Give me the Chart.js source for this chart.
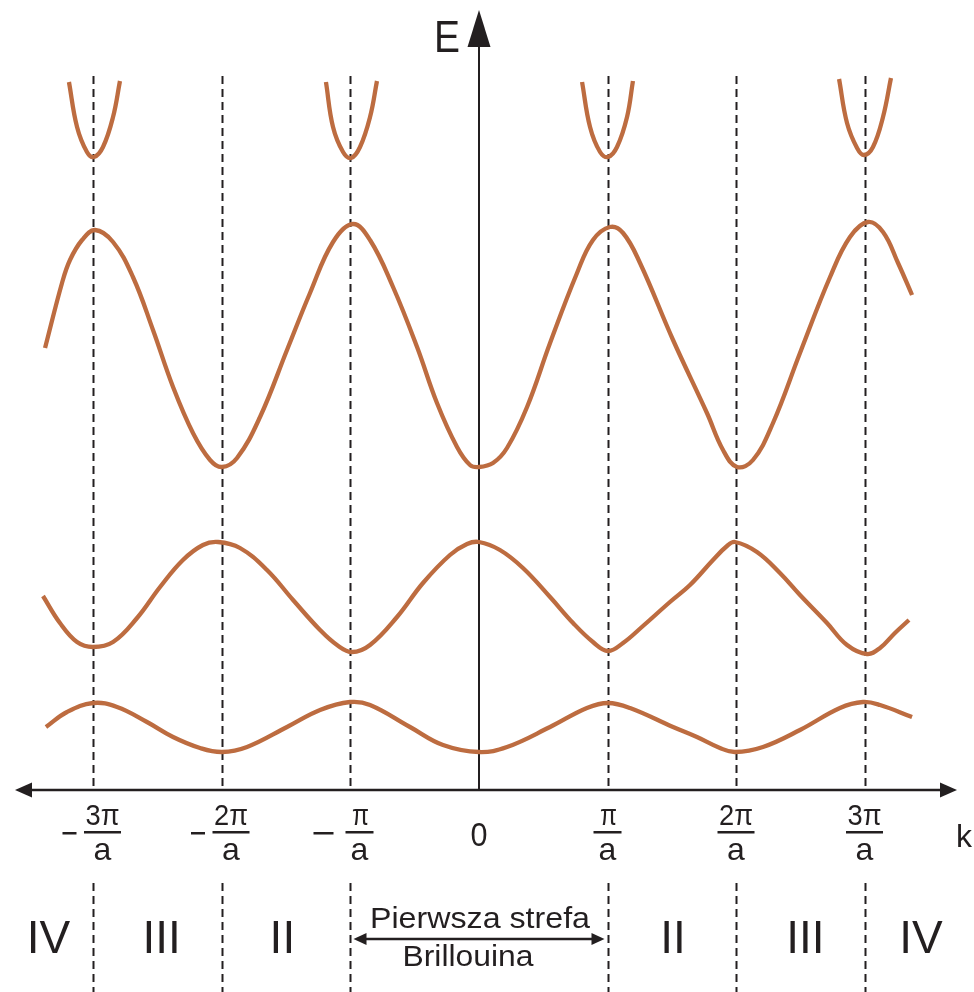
<!DOCTYPE html>
<html>
<head>
<meta charset="utf-8">
<script src="https://cdn.jsdelivr.net/npm/chart.js@4/dist/chart.umd.min.js"></script>
<style>
  html, body { margin: 0; padding: 0; background: #fff; }
  #wrap { width: 974px; height: 992px; }
</style>
</head>
<body>
<div id="wrap"><canvas id="bands" width="974" height="992"></canvas></div>
<script>
// k in units of pi/a, E in arbitrary units (axis at E = 0)
const band1K = [-3.370, -3.206, -3.004, -2.817, -2.584, -2.381, -2.171, -2.0, -1.805, -1.494, -1.237, -1.004, -0.848, -0.537, -0.280, 0, 0.218, 0.553, 0.840, 1.004, 1.175, 1.510, 1.696, 1.875, 1.992, 2.210, 2.498, 2.809, 2.988, 3.121, 3.370];
const band1E = [0.63, 0.78, 0.87, 0.83, 0.68, 0.53, 0.42, 0.38, 0.43, 0.63, 0.80, 0.88, 0.85, 0.63, 0.45, 0.38, 0.43, 0.63, 0.82, 0.87, 0.82, 0.63, 0.53, 0.42, 0.38, 0.43, 0.60, 0.82, 0.88, 0.85, 0.73];

const band2K = [-3.393, -3.261, -3.128, -3.004, -2.848, -2.661, -2.482, -2.304, -2.148, -2.031, -1.860, -1.650, -1.447, -1.237, -1.105, -0.988, -0.848, -0.638, -0.436, -0.226, -0.093, 0, 0.163, 0.342, 0.553, 0.732, 0.887, 1.004, 1.121, 1.276, 1.486, 1.642, 1.821, 1.930, 1.992, 2.163, 2.342, 2.498, 2.708, 2.864, 3.019, 3.121, 3.237, 3.346];
const band2E = [1.94, 1.67, 1.48, 1.43, 1.48, 1.72, 2.03, 2.30, 2.45, 2.48, 2.42, 2.20, 1.90, 1.60, 1.45, 1.38, 1.45, 1.73, 2.07, 2.35, 2.46, 2.48, 2.40, 2.22, 1.93, 1.67, 1.48, 1.39, 1.47, 1.64, 1.88, 2.05, 2.30, 2.44, 2.48, 2.38, 2.17, 1.95, 1.67, 1.45, 1.36, 1.42, 1.57, 1.70];

const band3K = [-3.377, -3.245, -3.183, -3.089, -2.988, -2.848, -2.693, -2.537, -2.381, -2.226, -2.093, -2.0, -1.883, -1.704, -1.494, -1.315, -1.136, -0.981, -0.848, -0.669, -0.482, -0.327, -0.171, -0.070, 0, 0.109, 0.218, 0.374, 0.553, 0.763, 0.887, 1.019, 1.121, 1.253, 1.510, 1.774, 1.899, 2.008, 2.132, 2.288, 2.498, 2.732, 2.887, 3.027, 3.144, 3.261, 3.370];
const band3E = [4.42, 5.07, 5.30, 5.50, 5.60, 5.48, 5.13, 4.60, 4.03, 3.57, 3.30, 3.23, 3.32, 3.73, 4.40, 4.97, 5.48, 5.66, 5.50, 5.03, 4.43, 3.87, 3.43, 3.25, 3.23, 3.27, 3.42, 3.83, 4.47, 5.17, 5.50, 5.63, 5.57, 5.27, 4.50, 3.77, 3.40, 3.23, 3.30, 3.67, 4.37, 5.13, 5.53, 5.68, 5.58, 5.27, 4.95];

// fourth band: short parabolas at the zone edges
const band4aK = [-3.191, -3.128, -3.051, -2.996, -2.926, -2.848, -2.794];
const band4aE = [7.08, 6.63, 6.38, 6.33, 6.43, 6.73, 7.09];
const band4bK = [-1.191, -1.136, -1.058, -0.996, -0.926, -0.848, -0.794];
const band4bE = [7.08, 6.63, 6.38, 6.32, 6.43, 6.73, 7.09];
const band4cK = [0.802, 0.864, 0.942, 1.004, 1.074, 1.152, 1.198];
const band4cE = [7.08, 6.63, 6.38, 6.33, 6.43, 6.73, 7.09];
const band4dK = [2.802, 2.864, 2.942, 2.996, 3.066, 3.144, 3.206];
const band4dE = [7.11, 6.67, 6.42, 6.35, 6.43, 6.73, 7.12];

const tickK = [-3, -2, -1, 0, 1, 2, 3];
const tickNum = ['3π', '2π', 'π', '0', 'π', '2π', '3π'];
const zoneEdgeK = [-3, -2, -1, 1, 2, 3];
const zoneNames = ['IV', 'III', 'II', 'II', 'III', 'IV'];
const zoneCenterK = [-3.35, -2.47, -1.53, 1.51, 2.54, 3.44];

const curveColor = '#bd6c40';
const ink = '#231f20';
const FONT = '"Liberation Sans", Arial, sans-serif';

function pts(ks, es) {
  return ks.map((k, i) => ({x: k, y: es[i]}));
}

function band(ks, es) {
  return {
    data: pts(ks, es),
    borderColor: curveColor,
    borderWidth: 4.3,
    pointRadius: 0,
    fill: false,
    tension: 0.4,
    clip: false
  };
}

// text with optional horizontal squeeze to a target width
function text(ctx, str, cx, base, size, width) {
  ctx.save();
  ctx.font = size + 'px ' + FONT;
  const w = ctx.measureText(str).width;
  const sx = width ? width / w : 1;
  ctx.translate(cx, base);
  ctx.scale(sx, 1);
  ctx.textAlign = 'center';
  ctx.textBaseline = 'alphabetic';
  ctx.fillStyle = ink;
  ctx.fillText(str, 0, 0);
  ctx.restore();
}

function arrowHead(ctx, tx, ty, dx, dy, len, half) {
  // tip at (tx,ty), pointing along (dx,dy)
  const bx = tx - dx * len, by = ty - dy * len;
  ctx.beginPath();
  ctx.moveTo(tx, ty);
  ctx.lineTo(bx - dy * half, by + dx * half);
  ctx.lineTo(bx + dy * half, by - dx * half);
  ctx.closePath();
  ctx.fill();
}

const decorations = {
  id: 'decorations',
  beforeDatasetsDraw(chart) {
    const ctx = chart.ctx;
    const X = v => chart.scales.x.getPixelForValue(v);
    const Y = v => chart.scales.y.getPixelForValue(v);
    const y0 = Y(0), x0 = X(0);

    ctx.save();
    ctx.strokeStyle = ink;
    ctx.fillStyle = ink;

    // dashed zone boundaries
    ctx.lineWidth = 2;
    ctx.setLineDash([8, 5]);
    zoneEdgeK.forEach(k => {
      const x = Math.round(X(k)) + 0.5;
      ctx.beginPath();
      ctx.moveTo(x, Y(7.14));
      ctx.lineTo(x, y0);
      ctx.moveTo(x, y0 + 93);
      ctx.lineTo(x, chart.height);
      ctx.stroke();
    });
    ctx.setLineDash([]);

    // k axis with arrows at both ends
    ctx.lineWidth = 2.5;
    ctx.beginPath();
    ctx.moveTo(25, y0);
    ctx.lineTo(945, y0);
    ctx.stroke();
    arrowHead(ctx, 15, y0, -1, 0, 17, 7.5);
    arrowHead(ctx, 957, y0, 1, 0, 17, 7.5);

    // E axis
    ctx.lineWidth = 2;
    ctx.beginPath();
    ctx.moveTo(x0, y0);
    ctx.lineTo(x0, 40);
    ctx.stroke();
    arrowHead(ctx, x0, 10, 0, -1, 37, 11.5);

    // first zone double arrow
    const ya = y0 + 149;
    const xl = X(-1) + 3, xr = X(1) - 3;
    ctx.lineWidth = 2.5;
    ctx.beginPath();
    ctx.moveTo(xl + 10, ya);
    ctx.lineTo(xr - 10, ya);
    ctx.stroke();
    arrowHead(ctx, xl, ya, -1, 0, 13, 6);
    arrowHead(ctx, xr, ya, 1, 0, 13, 6);
    ctx.restore();
  },
  afterDraw(chart) {
    const ctx = chart.ctx;
    const X = v => chart.scales.x.getPixelForValue(v);
    const Y = v => chart.scales.y.getPixelForValue(v);
    const y0 = Y(0), x0 = X(0);

    text(ctx, 'E', x0 - 32, 52, 44, 26);
    text(ctx, 'k', 964, y0 + 57, 32);

    // pi/a tick labels as fractions
    tickK.forEach((k, i) => {
      const tx = X(k);
      if (k === 0) {
        text(ctx, tickNum[i], tx, y0 + 56, 33, 17);
        return;
      }
      const fx = k < 0 ? tx + 9 : tx;
      const num = tickNum[i];
      const barW = num.length > 1 ? 37 : 28;
      text(ctx, num, fx + (num.length > 1 ? 0 : 1), y0 + 35, 29, num.length > 1 ? 34 : 17);
      ctx.fillStyle = ink;
      ctx.fillRect(fx - barW / 2, y0 + 41, barW, 2.5);
      text(ctx, 'a', fx, y0 + 70, 32);
      if (k < 0) {
        const mw = k === -1 ? 20 : 14;
        ctx.fillRect(tx - 17 - mw, y0 + 42, mw, 2.5);
      }
    });

    // Brillouin zone names
    zoneNames.forEach((name, i) => {
      text(ctx, name, X(zoneCenterK[i]), y0 + 163, 46);
    });
    text(ctx, 'Pierwsza strefa', x0 + 1, y0 + 138, 30, 220);
    text(ctx, 'Brillouina', x0 - 11, y0 + 176, 30, 131);
  }
};

new Chart(document.getElementById('bands'), {
  type: 'line',
  data: {
    datasets: [
      band(band1K, band1E),
      band(band2K, band2E),
      band(band3K, band3E),
      band(band4aK, band4aE),
      band(band4bK, band4bE),
      band(band4cK, band4cE),
      band(band4dK, band4dE)
    ]
  },
  options: {
    responsive: false,
    animation: false,
    layout: {padding: 0},
    plugins: {legend: {display: false}, tooltip: {enabled: false}},
    scales: {
      x: {type: 'linear', min: -3.7276, max: 3.8521, display: false},
      y: {type: 'linear', min: -2.02, max: 7.9, display: false}
    }
  },
  plugins: [decorations]
});
</script>
</body>
</html>
